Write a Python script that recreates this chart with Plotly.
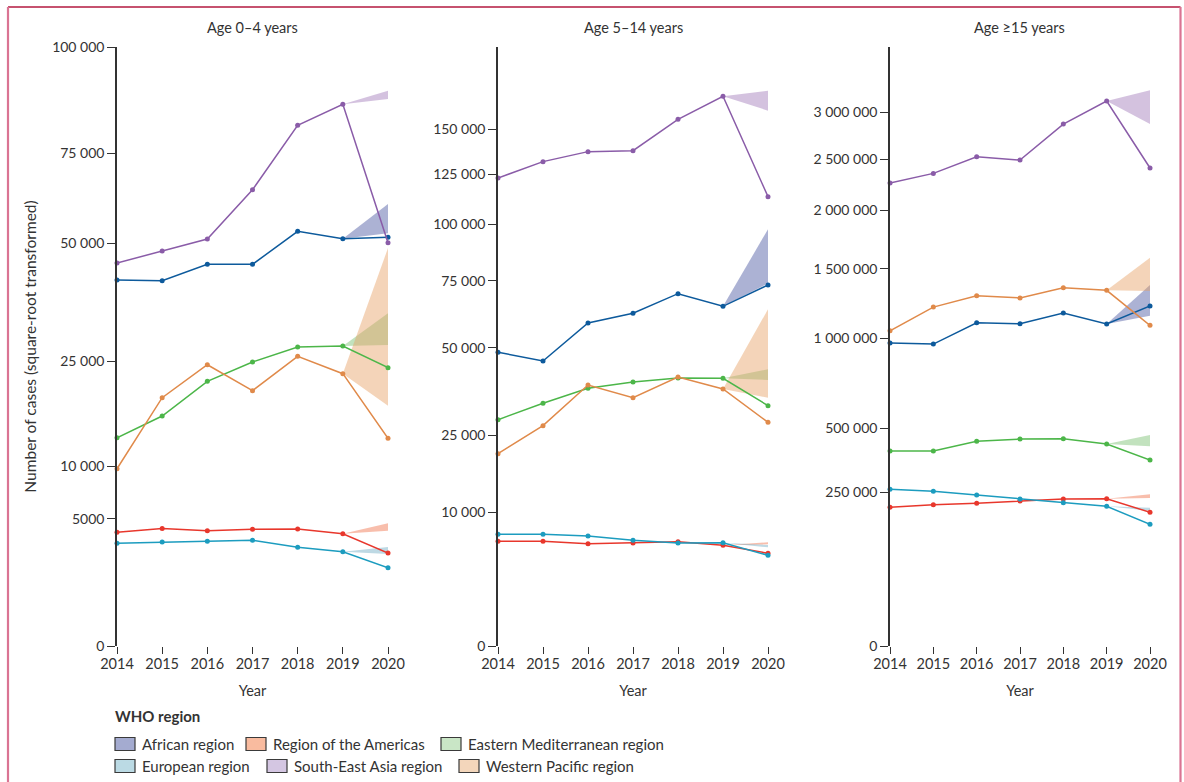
import numpy as np
import plotly.graph_objects as go

# ---------------------------------------------------------------- data
years = [2014, 2015, 2016, 2017, 2018, 2019, 2020]

regions = ["African region", "Region of the Americas", "Eastern Mediterranean region",
           "European region", "South-East Asia region", "Western Pacific region"]

panel_titles = ["Age 0–4 years", "Age 5–14 years", "Age ≥15 years"]

# Notified cases, age 0–4 years
age0_4 = {
    "African region":               [41340, 41190, 44960, 44960, 53080, 51200, 51550],
    "Region of the Americas":       [3990, 4270, 4100, 4200, 4225, 3890, 2670],
    "Eastern Mediterranean region": [13390, 16330, 21620, 24890, 27590, 27780, 23910],
    "European region":              [3254, 3340, 3380, 3450, 3006, 2745, 1893],
    "South-East Asia region":       [45280, 48150, 51130, 64260, 83680, 90560, 50200],
    "Western Pacific region":       [9700, 19030, 24420, 20120, 25900, 22890, 13310],
}
# Notified cases, age 5–14 years
age5_14 = {
    "African region":               [48470, 45640, 58630, 62190, 69750, 64830, 73230],
    "Region of the Americas":       [6160, 6160, 5880, 5960, 6110, 5700, 4830],
    "Eastern Mediterranean region": [28780, 33100, 37320, 39160, 40360, 40270, 32450],
    "European region":              [7010, 7010, 6800, 6275, 5960, 5995, 4620],
    "South-East Asia region":       [123070, 131820, 137320, 137870, 155880, 169810, 113440],
    "Western Pacific region":       [20780, 27280, 38280, 34650, 40660, 37120, 28120],
}
# Notified cases, age 15 years and older
age15_plus = {
    "African region":               [968000, 961000, 1102000, 1095000, 1169000, 1093000, 1219000],
    "Region of the Americas":       [202800, 210500, 214600, 221600, 227800, 228900, 188400],
    "Eastern Mediterranean region": [400800, 400800, 441600, 451700, 453000, 430100, 364700],
    "European region":              [258800, 252200, 240400, 227800, 216600, 205700, 156100],
    "South-East Asia region":       [2260000, 2355000, 2524000, 2490000, 2872000, 3131000, 2409000],
    "Western Pacific region":       [1048000, 1211000, 1294000, 1277000, 1353000, 1334000, 1084000],
}

# Expected 2020 cases (lower, upper) projected from 2019
expected0_4 = {
    "African region":               (52600, 60300),
    "Region of the Americas":       (4100, 4645),
    "Eastern Mediterranean region": (27960, 34160),
    "European region":              (2612, 3025),
    "South-East Asia region":       (92350, 95180),
    "Western Pacific region":       (17820, 48890),
}
expected5_14 = {
    "African region":               (73900, 97580),
    "Region of the Americas":       (5810, 6040),
    "Eastern Mediterranean region": (39760, 43020),
    "European region":              (5470, 5730),
    "South-East Asia region":       (161040, 173300),
    "Western Pacific region":       (34650, 63710),
}
expected15_plus = {
    "African region":               (1150000, 1374000),
    "Region of the Americas":       (231000, 242500),
    "Eastern Mediterranean region": (420200, 469300),
    "European region":              (193100, 201700),
    "South-East Asia region":       (2872000, 3255000),
    "Western Pacific region":       (1328000, 1590000),
}

ticks0_4 = [0, 5000, 10000, 25000, 50000, 75000, 100000]
ticks5_14 = [0, 10000, 25000, 50000, 75000, 100000, 125000, 150000]
ticks15_plus = [0, 250000, 500000, 1000000, 1500000, 2000000, 2500000, 3000000]

# ---------------------------------------------------------------- styling
line_colors = {
    "African region": "#0d5a9c",
    "Region of the Americas": "#e8372c",
    "Eastern Mediterranean region": "#4cb649",
    "European region": "#1c9cbf",
    "South-East Asia region": "#8a5ca8",
    "Western Pacific region": "#e08a4a",
}
band_colors = {
    "African region": "rgba(70,85,160,0.45)",
    "Region of the Americas": "rgba(240,110,70,0.45)",
    "Eastern Mediterranean region": "rgba(120,190,110,0.45)",
    "European region": "rgba(110,170,195,0.45)",
    "South-East Asia region": "rgba(160,120,185,0.45)",
    "Western Pacific region": "rgba(230,160,100,0.45)",
}
legend_colors = {
    "African region": "#a4abd0",
    "Region of the Americas": "#f9bb9f",
    "Eastern Mediterranean region": "#c9e6c6",
    "European region": "#bbdae4",
    "South-East Asia region": "#d4c6e2",
    "Western Pacific region": "#f3d6bb",
}

FONT = "Lato"
TXT = "#333333"
W, H = 1184, 782

# pixel geometry of the three panels
x_dom_px = [(117, 388), (498, 768), (890, 1150)]
y_bottom_px, y_top_px = 646, 47
# top of each square-root axis, in sqrt(cases)
y_tops = [332.8, 449.0, 1945.0]

# legend key placement (swatch left edge, row centre), in pixels
key_pos = {
    "African region": (115, 744),
    "Region of the Americas": (246, 744),
    "Eastern Mediterranean region": (441, 744),
    "European region": (115, 766),
    "South-East Asia region": (267, 766),
    "Western Pacific region": (459, 766),
}


def fmt(v):
    s = f"{v:,}"
    if v < 10000:
        s = s.replace(",", "")
    return s.replace(",", " ")


def px_x(p):
    return p / W


def px_y(p):
    return 1 - p / H


fig = go.Figure()

panels = [
    (age0_4, expected0_4, ticks0_4),
    (age5_14, expected5_14, ticks5_14),
    (age15_plus, expected15_plus, ticks15_plus),
]

for i, (obs, exp, ticks) in enumerate(panels):
    xa = "x" if i == 0 else f"x{i + 1}"
    ya = "y" if i == 0 else f"y{i + 1}"
    # projected 2020 ranges (wedges from the 2019 value)
    for r in regions:
        lo, hi = exp[r]
        v19 = obs[r][years.index(2019)]
        fig.add_trace(go.Scatter(
            x=[2019, 2020, 2020, 2019],
            y=np.sqrt([v19, hi, lo, v19]),
            fill="toself", fillcolor=band_colors[r], mode="lines",
            line=dict(width=0), hoverinfo="skip", showlegend=False,
            xaxis=xa, yaxis=ya,
        ))
    # observed notifications
    for r in regions:
        fig.add_trace(go.Scatter(
            x=years, y=np.sqrt(obs[r]), mode="lines+markers",
            line=dict(color=line_colors[r], width=1.5),
            marker=dict(color=line_colors[r], size=5),
            name=r, showlegend=False, cliponaxis=False,
            customdata=obs[r], hovertemplate="%{x}: %{customdata:,}<extra>" + r + "</extra>",
            xaxis=xa, yaxis=ya,
        ))

    dom_x = [px_x(x_dom_px[i][0]), px_x(x_dom_px[i][1])]
    dom_y = [px_y(y_bottom_px), px_y(y_top_px)]
    tickpos = [np.sqrt(t) for t in ticks]
    if i == 0:
        # the 100 000 label sits at the top end of the first axis
        tickpos[-1] = y_tops[0]
    xkey = "xaxis" if i == 0 else f"xaxis{i + 1}"
    ykey = "yaxis" if i == 0 else f"yaxis{i + 1}"
    fig.update_layout(**{
        xkey: dict(
            domain=dom_x, range=[2014, 2020], anchor=ya,
            tickvals=years, ticktext=[str(y) for y in years],
            ticks="outside", ticklen=7, tickcolor=TXT, tickwidth=1.2,
            ticklabelstandoff=-2,
            showline=False, showgrid=False, zeroline=False,
            tickfont=dict(family=FONT, size=14.5, color=TXT),
            title=dict(text="Year", font=dict(family=FONT, size=14.5, color=TXT), standoff=14),
            automargin=False, fixedrange=True,
        ),
        ykey: dict(
            domain=dom_y, range=[0, y_tops[i]], anchor=xa,
            tickvals=tickpos, ticktext=[fmt(t) for t in ticks],
            ticks="outside", ticklen=8, tickcolor=TXT, tickwidth=1.2,
            showline=True, linecolor=TXT, linewidth=1.5,
            showgrid=False, zeroline=False,
            tickfont=dict(family=FONT, size=14, color=TXT),
            automargin=False, fixedrange=True,
        ),
    })
    fig.add_annotation(
        x=(dom_x[0] + dom_x[1]) / 2, y=px_y(28), xref="paper", yref="paper",
        text=panel_titles[i], showarrow=False, xanchor="center", yanchor="middle",
        font=dict(family=FONT, size=14.5, color=TXT),
    )

fig.update_layout(yaxis_title=dict(
    text="Number of cases (square-root transformed)",
    font=dict(family=FONT, size=15.5, color=TXT), standoff=12,
))

# legend heading and keys
fig.add_annotation(
    x=px_x(113), y=px_y(716), xref="paper", yref="paper",
    text="<b>WHO region</b>", showarrow=False, xanchor="left", yanchor="middle",
    font=dict(family=FONT, size=15, color=TXT),
)
for r in regions:
    kx, ky = key_pos[r]
    fig.add_shape(
        type="rect", xref="paper", yref="paper",
        x0=px_x(kx), x1=px_x(kx + 20), y0=px_y(ky + 6.5), y1=px_y(ky - 6.5),
        fillcolor=legend_colors[r], line=dict(color="#3a3a3a", width=1.2),
    )
    fig.add_annotation(
        x=px_x(kx + 25), y=px_y(ky), xref="paper", yref="paper",
        text=r, showarrow=False, xanchor="left", yanchor="middle",
        font=dict(family=FONT, size=15, color=TXT),
    )

# page frame
frame = [
    dict(x0=8, x1=1180.5, y0=7, y1=7, color="#b3183f", width=1.6),
    dict(x0=8, x1=8, y0=782, y1=7, color="#da7493", width=2.2),
    dict(x0=1180.5, x1=1180.5, y0=782, y1=7, color="#da7493", width=2.2),
]
for f in frame:
    fig.add_shape(type="line", xref="paper", yref="paper",
                  x0=px_x(f["x0"]), x1=px_x(f["x1"]), y0=px_y(f["y0"]), y1=px_y(f["y1"]),
                  line=dict(color=f["color"], width=f["width"]))

fig.update_layout(
    width=W, height=H, autosize=False,
    margin=dict(l=0, r=0, t=0, b=0, autoexpand=False),
    paper_bgcolor="white", plot_bgcolor="white",
    font=dict(family=FONT, size=14, color=TXT),
    showlegend=False,
)

fig.write_html("out.html")
